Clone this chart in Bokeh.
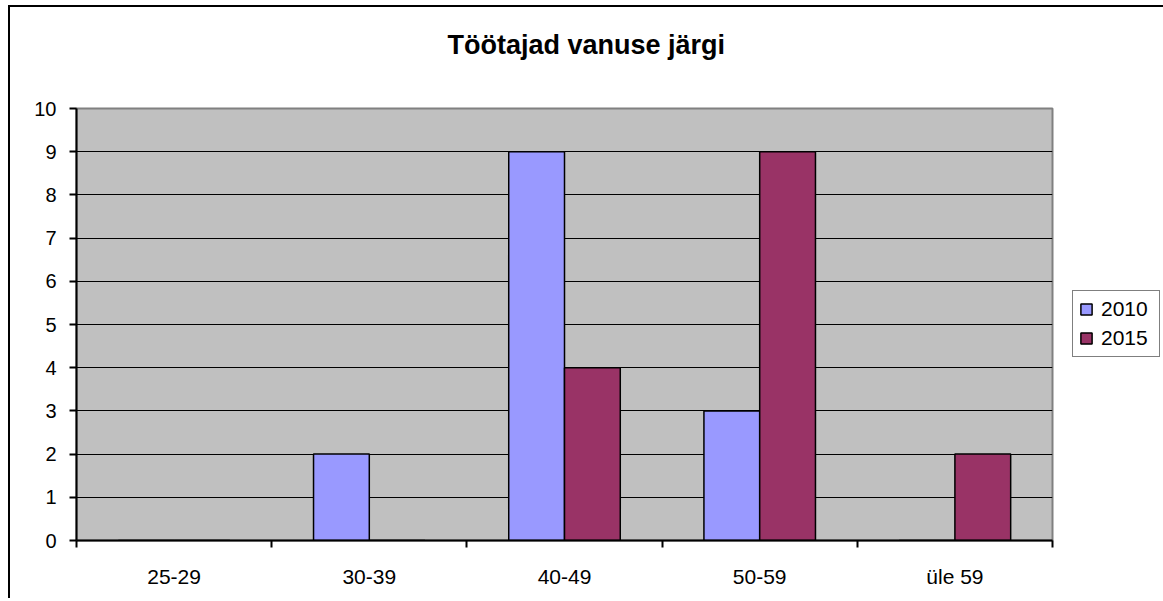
import numpy as np
from bokeh.plotting import figure
from bokeh.models import ColumnDataSource, FixedTicker, Range1d, Title
from bokeh.embed import file_html
from bokeh.resources import INLINE

# ---- data ----
categories = ["25-29", "30-39", "40-49", "50-59", "üle 59"]
series_names = ["2010", "2015"]
values_2010 = [0, 2, 9, 3, 0]
values_2015 = [0, 0, 4, 9, 2]
y_ticks = list(range(0, 11))
title_text = "Töötajad vanuse järgi"

colors = ["#9999FF", "#993366"]
FONT = "Liberation Sans"

n = len(categories)
centers = np.arange(n) + 0.5
bar_w = 2.0 / 3.5  # Excel gap width 150%
offsets = [-bar_w / 4, bar_w / 4]

p = figure(
    frame_width=976, frame_height=432,
    x_range=Range1d(0, n), y_range=Range1d(0, 10),
    output_backend="svg", toolbar_location=None,
    min_border_left=66, min_border_top=101, min_border_right=108, min_border_bottom=58,
)
p.styles = {"border-left": "2px solid black", "border-top": "2px solid black",
            "margin-left": "8px", "margin-top": "5px"}

p.background_fill_color = "#C0C0C0"
p.border_fill_color = "white"
p.outline_line_color = "#808080"
p.outline_line_width = 2

for name, vals, col, off in zip(series_names, [values_2010, values_2015], colors, offsets):
    src = ColumnDataSource(dict(x=centers + off, top=vals))
    p.vbar(x="x", top="top", width=bar_w / 2, source=src,
           fill_color=col, line_color="black", line_width=1.5,
           legend_label=name)

# spacer between title and frame (nearest the frame)
spacer = Title(text=" ", text_font_size="10px", standoff=31, text_color="white")
p.add_layout(spacer, "above")

# title
p.title.text = title_text
p.title.align = "left"
p.title.offset = 371
p.title.standoff = 10
p.title.text_font = FONT
p.title.text_font_size = "27px"
p.title.text_font_style = "bold"
p.title.text_color = "black"

# x axis
xa = p.xaxis[0]
xa.ticker = FixedTicker(ticks=list(centers), minor_ticks=list(range(n + 1)))
xa.major_label_overrides = {float(c): lab for c, lab in zip(centers, categories)}
xa.major_tick_line_color = None
xa.major_tick_out = 0
xa.major_tick_in = 0
xa.minor_tick_line_color = "black"
xa.minor_tick_line_width = 2
xa.minor_tick_out = 7
xa.minor_tick_in = 0
xa.axis_line_color = "black"
xa.axis_line_width = 2
xa.major_label_text_font = FONT
xa.major_label_text_font_size = "21px"
xa.major_label_text_color = "black"
xa.major_label_standoff = 17

# y axis
ya = p.yaxis[0]
ya.ticker = FixedTicker(ticks=y_ticks)
ya.major_tick_out = 7
ya.major_tick_in = 0
ya.major_tick_line_color = "black"
ya.major_tick_line_width = 2
ya.minor_tick_line_color = None
ya.axis_line_color = "black"
ya.axis_line_width = 2
ya.major_label_text_font = FONT
ya.major_label_text_font_size = "20px"
ya.major_label_text_color = "black"
ya.major_label_standoff = 13

# grid
p.xgrid.grid_line_color = None
p.ygrid.ticker = FixedTicker(ticks=y_ticks[:-1])
p.ygrid.grid_line_color = "black"
p.ygrid.grid_line_width = 1.2

# legend -> right panel
lg = p.legend[0]
p.center.remove(lg)
p.add_layout(lg, "right")
lg.location = (20, 183)
lg.orientation = "vertical"
lg.border_line_color = "black"
lg.border_line_width = 1.5
lg.background_fill_color = "white"
lg.background_fill_alpha = 1
lg.padding = 6
lg.margin = 0
lg.spacing = 5
lg.glyph_width = 14
lg.glyph_height = 14
lg.label_standoff = 8
lg.label_height = 24
lg.label_width = 52
lg.label_text_font = FONT
lg.label_text_font_size = "21px"
lg.label_text_color = "black"
lg.label_text_baseline = "middle"

open("out.html", "w").write(file_html(p, INLINE))
